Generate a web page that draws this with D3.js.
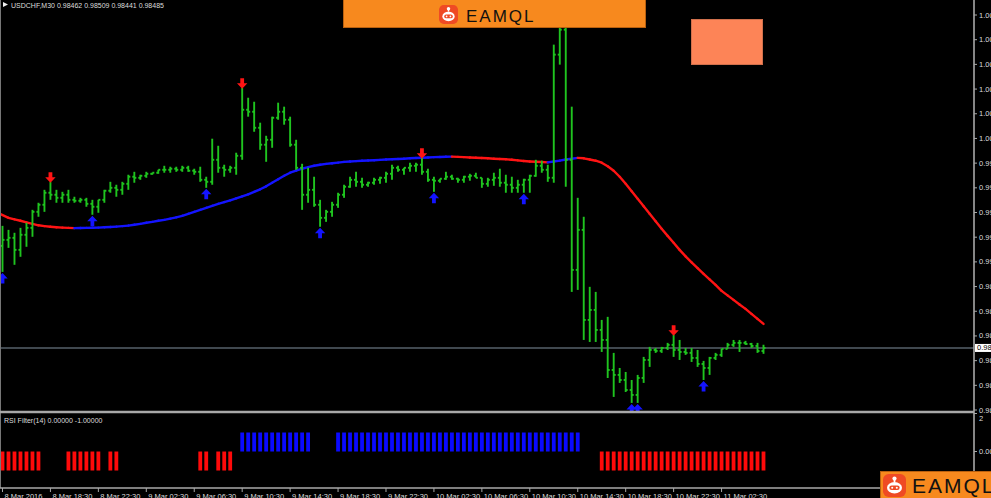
<!DOCTYPE html>
<html>
<head>
<meta charset="utf-8">
<script src="https://cdn.jsdelivr.net/npm/d3@7"></script>
<style>
  body { margin: 0; background: #000; overflow: hidden; }
  svg { display: block; }
  text { font-family: "Liberation Sans", Arial, sans-serif; }
</style>
</head>
<body>
<svg width="991" height="498"></svg>
<script>
// USDCHF M30 bars
var highs = [
  0.99400, 0.99370, 0.99348, 0.99385, 0.99423, 0.99520, 0.99573, 0.99670, 0.99730, 0.99670,
  0.99655, 0.99670, 0.99618, 0.99610, 0.99610, 0.99595, 0.99595, 0.99670, 0.99730, 0.99708,
  0.99730, 0.99783, 0.99805, 0.99783, 0.99805, 0.99798, 0.99820, 0.99850, 0.99843, 0.99843,
  0.99850, 0.99850, 0.99828, 0.99843, 0.99768, 1.00053, 1.00000, 0.99858, 0.99850, 0.99948,
  1.00435, 1.00360, 1.00330, 1.00173, 1.00075, 1.00218, 1.00323, 1.00293, 1.00218, 1.00045,
  0.99865, 0.99835, 0.99768, 0.99595, 0.99520, 0.99580, 0.99648, 0.99708, 0.99768, 0.99805,
  0.99760, 0.99730, 0.99760, 0.99768, 0.99805, 0.99858, 0.99850, 0.99835, 0.99873, 0.99873,
  0.99910, 0.99828, 0.99768, 0.99753, 0.99805, 0.99783, 0.99760, 0.99775, 0.99790, 0.99798,
  0.99760, 0.99760, 0.99798, 0.99828, 0.99783, 0.99768, 0.99745, 0.99753, 0.99783, 0.99895,
  0.99888, 0.99858, 1.00758, 1.00960, 1.01005, 1.00293, 0.99610, 0.99468, 0.98943, 0.98905,
  0.98695, 0.98718, 0.98448, 0.98335, 0.98305, 0.98245, 0.98283, 0.98418, 0.98493, 0.98485,
  0.98493, 0.98523, 0.98583, 0.98545, 0.98485, 0.98485, 0.98470, 0.98388, 0.98418, 0.98448,
  0.98478, 0.98523, 0.98545, 0.98545, 0.98538, 0.98523, 0.98523, 0.98509
];
var lows = [
  0.99055, 0.99235, 0.99108, 0.99168, 0.99243, 0.99318, 0.99468, 0.99505, 0.99595, 0.99573,
  0.99573, 0.99573, 0.99573, 0.99573, 0.99543, 0.99483, 0.99498, 0.99573, 0.99648, 0.99618,
  0.99633, 0.99670, 0.99723, 0.99745, 0.99760, 0.99783, 0.99790, 0.99798, 0.99798, 0.99805,
  0.99805, 0.99805, 0.99783, 0.99730, 0.99685, 0.99708, 0.99798, 0.99768, 0.99798, 0.99783,
  0.99895, 1.00218, 1.00105, 0.99970, 0.99880, 0.99985, 1.00195, 1.00158, 0.99993, 0.99820,
  0.99520, 0.99573, 0.99543, 0.99393, 0.99430, 0.99468, 0.99535, 0.99610, 0.99685, 0.99693,
  0.99685, 0.99693, 0.99708, 0.99715, 0.99723, 0.99745, 0.99805, 0.99783, 0.99805, 0.99805,
  0.99783, 0.99730, 0.99655, 0.99723, 0.99745, 0.99745, 0.99723, 0.99723, 0.99738, 0.99760,
  0.99685, 0.99693, 0.99700, 0.99693, 0.99648, 0.99648, 0.99648, 0.99648, 0.99648, 0.99768,
  0.99798, 0.99730, 0.99723, 1.00608, 0.99693, 0.98905, 0.98920, 0.98545, 0.98530, 0.98530,
  0.98455, 0.98260, 0.98118, 0.98223, 0.98155, 0.98073, 0.98073, 0.98223, 0.98343, 0.98448,
  0.98448, 0.98470, 0.98418, 0.98395, 0.98433, 0.98380, 0.98343, 0.98245, 0.98283, 0.98395,
  0.98418, 0.98478, 0.98493, 0.98455, 0.98508, 0.98485, 0.98448, 0.98441
];
var closes = [
  0.99295, 0.99310, 0.99220, 0.99333, 0.99385, 0.99505, 0.99558, 0.99648, 0.99633, 0.99610,
  0.99633, 0.99595, 0.99588, 0.99595, 0.99565, 0.99543, 0.99595, 0.99663, 0.99685, 0.99670,
  0.99715, 0.99768, 0.99760, 0.99775, 0.99790, 0.99798, 0.99820, 0.99820, 0.99828, 0.99820,
  0.99835, 0.99813, 0.99805, 0.99745, 0.99730, 0.99895, 0.99835, 0.99820, 0.99835, 0.99925,
  1.00270, 1.00255, 1.00135, 1.00008, 1.00045, 1.00210, 1.00255, 1.00195, 1.00008, 0.99835,
  0.99633, 0.99670, 0.99558, 0.99460, 0.99505, 0.99558, 0.99633, 0.99693, 0.99745, 0.99730,
  0.99708, 0.99723, 0.99745, 0.99760, 0.99790, 0.99835, 0.99820, 0.99835, 0.99850, 0.99858,
  0.99805, 0.99745, 0.99738, 0.99753, 0.99768, 0.99753, 0.99745, 0.99768, 0.99775, 0.99760,
  0.99715, 0.99745, 0.99760, 0.99723, 0.99708, 0.99685, 0.99708, 0.99745, 0.99775, 0.99850,
  0.99820, 0.99760, 1.00683, 1.00870, 0.99895, 0.99070, 0.99370, 0.98695, 0.98770, 0.98620,
  0.98545, 0.98320, 0.98283, 0.98245, 0.98170, 0.98133, 0.98260, 0.98395, 0.98470, 0.98463,
  0.98485, 0.98508, 0.98470, 0.98455, 0.98448, 0.98410, 0.98365, 0.98335, 0.98410, 0.98433,
  0.98478, 0.98508, 0.98523, 0.98523, 0.98515, 0.98500, 0.98462, 0.98485
];
var firstOpen = 0.99250;

// moving average (drawn blue when rising, red when falling)
var ma = [
  0.99490, 0.99460, 0.99449, 0.99438, 0.99426, 0.99415, 0.99404, 0.99398, 0.99393, 0.99389,
  0.99387, 0.99385, 0.99383, 0.99384, 0.99385, 0.99386, 0.99387, 0.99389, 0.99391, 0.99394,
  0.99398, 0.99402, 0.99408, 0.99415, 0.99423, 0.99430, 0.99438, 0.99445, 0.99454, 0.99464,
  0.99475, 0.99490, 0.99505, 0.99520, 0.99535, 0.99550, 0.99565, 0.99578, 0.99591, 0.99606,
  0.99621, 0.99636, 0.99655, 0.99674, 0.99696, 0.99723, 0.99749, 0.99775, 0.99798, 0.99813,
  0.99828, 0.99840, 0.99850, 0.99858, 0.99864, 0.99869, 0.99874, 0.99879, 0.99882, 0.99885,
  0.99888, 0.99890, 0.99892, 0.99894, 0.99897, 0.99899, 0.99901, 0.99903, 0.99906, 0.99908,
  0.99910, 0.99912, 0.99915, 0.99916, 0.99918, 0.99919, 0.99917, 0.99915, 0.99912, 0.99910,
  0.99908, 0.99906, 0.99903, 0.99901, 0.99899, 0.99895, 0.99891, 0.99886, 0.99882, 0.99880,
  0.99878, 0.99876, 0.99882, 0.99889, 0.99897, 0.99903, 0.99909, 0.99906, 0.99897, 0.99888,
  0.99873, 0.99846, 0.99813, 0.99768, 0.99715, 0.99659, 0.99603, 0.99546, 0.99490, 0.99434,
  0.99378, 0.99325, 0.99273, 0.99220, 0.99171, 0.99126, 0.99083, 0.99040, 0.98999, 0.98958,
  0.98913, 0.98879, 0.98845, 0.98811, 0.98778, 0.98740, 0.98703, 0.98665
];

// RSI filter: 1 = blue buffer, -1 = red buffer, 0 = empty
var rsiSignal = [
  -1,-1,-1,-1,-1,-1,-1, 0, 0, 0, 0,-1,-1,-1,-1,-1,
  -1, 0,-1,-1, 0, 0, 0, 0, 0, 0, 0, 0, 0, 0, 0, 0,
   0,-1,-1, 0,-1,-1,-1, 0, 1, 1, 1, 1, 1, 1, 1, 1,
   1, 1, 1, 1, 0, 0, 0, 0, 1, 1, 1, 1, 1, 1, 1, 1,
   1, 1, 1, 1, 1, 1, 1, 1, 1, 1, 1, 1, 1, 1, 1, 1,
   1, 1, 1, 1, 1, 1, 1, 1, 1, 1, 1, 1, 1, 1, 1, 1,
   1, 0, 0, 0,-1,-1,-1,-1,-1,-1,-1,-1,-1,-1,-1,-1,
  -1,-1,-1,-1,-1,-1,-1,-1,-1,-1,-1,-1,-1,-1,-1,-1
];

// signal arrows (bar indexes)
var upArrows = [0, 15, 34, 53, 72, 87, 105, 106, 117];
var downArrows = [8, 40, 70, 112];

// axis labels
var timeTickBars = [0, 8, 16, 24, 32, 40, 48, 56, 64, 72, 80, 88, 96, 104, 112, 120];
var timeTickLabels = ["8 Mar 2016", "8 Mar 18:30", "8 Mar 22:30", "9 Mar 02:30", "9 Mar 06:30",
  "9 Mar 10:30", "9 Mar 14:30", "9 Mar 18:30", "9 Mar 22:30", "10 Mar 02:30", "10 Mar 06:30",
  "10 Mar 10:30", "10 Mar 14:30", "10 Mar 18:30", "10 Mar 22:30", "11 Mar 02:30"];
var priceTicks = [0.98020, 0.98205, 0.98390, 0.98575, 0.98760, 0.98945, 0.99130, 0.99315, 0.99500,
  0.99685, 0.99870, 1.00055, 1.00240, 1.00425, 1.00610, 1.00795, 1.00980];
var rsiTicks = [2, 0];
var rsiTickLabels = ["2", "0.00000"];
var lastPrice = 0.98485;
var chartTitle = "USDCHF,M30  0.98462 0.98509 0.98441 0.98485";
var rsiTitle = "RSI Filter(14) 0.00000 -1.00000";

var svg = d3.select("svg"),
    axisX = 974,
    mainBottom = 412,
    subBottom = 488;

var green = "#1fc41f", grid = "#a8a8a8", label = "#dcdcdc";

var x = d3.scalePoint().domain(d3.range(highs.length)).range([2.5, 763.5]);
var y = d3.scaleLinear().domain([0.98020, 1.00980]).range([410, 15]);
var yr = d3.scaleLinear().domain([-1.92, 2]).range([subBottom, 413.5]);

svg.append("rect").attr("width", 991).attr("height", 498).attr("fill", "#000");

svg.append("clipPath").attr("id", "mainclip")
  .append("rect").attr("x", 0).attr("y", 0).attr("width", axisX).attr("height", mainBottom);

var main = svg.append("g").attr("clip-path", "url(#mainclip)");

// current price line
main.append("line")
    .attr("x1", 0).attr("x2", axisX)
    .attr("y1", y(lastPrice)).attr("y2", y(lastPrice))
    .attr("stroke", "#56606a").attr("stroke-width", 1.5);

// moving average, coloured by direction
var maSeg = d3.range(1, ma.length);
main.selectAll(".ma")
  .data(maSeg)
  .enter().append("line")
    .attr("class", "ma")
    .attr("x1", function(i) { return i == 1 ? 0 : x(i - 1); })
    .attr("y1", function(i) { return y(ma[i - 1]); })
    .attr("x2", function(i) { return x(i); })
    .attr("y2", function(i) { return y(ma[i]); })
    .attr("stroke", function(i) { return ma[i] >= ma[i - 1] ? "#1414ff" : "#ff1414"; })
    .attr("stroke-width", 2.4)
    .attr("stroke-linecap", "round");

// ohlc bars
var bars = main.selectAll(".bar")
  .data(d3.range(highs.length))
  .enter().append("g")
    .attr("class", "bar")
    .attr("stroke", green)
    .attr("stroke-width", 1.9);

bars.append("line")
    .attr("x1", function(i) { return x(i); })
    .attr("x2", function(i) { return x(i); })
    .attr("y1", function(i) { return y(highs[i]); })
    .attr("y2", function(i) { return y(lows[i]); });

bars.append("line")
    .attr("x1", function(i) { return x(i) - 2; })
    .attr("x2", function(i) { return x(i); })
    .attr("y1", function(i) { return y(i ? closes[i - 1] : firstOpen); })
    .attr("y2", function(i) { return y(i ? closes[i - 1] : firstOpen); });

bars.append("line")
    .attr("x1", function(i) { return x(i); })
    .attr("x2", function(i) { return x(i) + 2; })
    .attr("y1", function(i) { return y(closes[i]); })
    .attr("y2", function(i) { return y(closes[i]); });

// arrows
var arrowPath = "M0,0L5.2,5.5L1.9,5.5L1.9,10.5L-1.9,10.5L-1.9,5.5L-5.2,5.5Z";

main.selectAll(".up")
  .data(upArrows)
  .enter().append("path")
    .attr("class", "up")
    .attr("d", arrowPath)
    .attr("fill", "#1414ff")
    .attr("transform", function(i) { return "translate(" + x(i) + "," + (y(lows[i]) + 1) + ")"; });

main.selectAll(".down")
  .data(downArrows)
  .enter().append("path")
    .attr("class", "down")
    .attr("d", arrowPath)
    .attr("fill", "#ff1414")
    .attr("transform", function(i) { return "translate(" + x(i) + "," + (y(highs[i]) + 1) + ") scale(1,-1)"; });

// rsi filter panel
svg.selectAll(".rsi")
  .data(d3.range(rsiSignal.length).filter(function(i) { return rsiSignal[i] != 0; }))
  .enter().append("rect")
    .attr("class", "rsi")
    .attr("x", function(i) { return x(i) - 1.9; })
    .attr("width", 3.8)
    .attr("y", function(i) { return Math.min(yr(rsiSignal[i]), yr(0)); })
    .attr("height", function(i) { return Math.abs(yr(rsiSignal[i]) - yr(0)); })
    .attr("fill", function(i) { return rsiSignal[i] > 0 ? "#0a0aff" : "#ff0a0a"; });

// frame lines
svg.append("line").attr("x1", 0.5).attr("x2", 0.5).attr("y1", 0).attr("y2", subBottom)
    .attr("stroke", "#777").attr("stroke-width", 1);
svg.append("line").attr("x1", 0).attr("x2", axisX).attr("y1", mainBottom).attr("y2", mainBottom)
    .attr("stroke", grid).attr("stroke-width", 2.4);
svg.append("line").attr("x1", 0).attr("x2", axisX + 1).attr("y1", subBottom).attr("y2", subBottom)
    .attr("stroke", grid).attr("stroke-width", 1.6);
svg.append("line").attr("x1", axisX).attr("x2", axisX).attr("y1", 0).attr("y2", subBottom)
    .attr("stroke", grid).attr("stroke-width", 1.6);

// price axis
var pAxis = svg.append("g");
pAxis.selectAll("line")
  .data(priceTicks)
  .enter().append("line")
    .attr("x1", axisX).attr("x2", axisX + 3)
    .attr("y1", function(d) { return y(d); }).attr("y2", function(d) { return y(d); })
    .attr("stroke", grid);
pAxis.selectAll("text")
  .data(priceTicks)
  .enter().append("text")
    .attr("x", axisX + 5)
    .attr("y", function(d) { return y(d) + 2.5; })
    .attr("font-size", 7.5)
    .attr("fill", label)
    .text(function(d) { return d.toFixed(5); });

// last price tag
svg.append("rect")
    .attr("x", axisX + 1).attr("y", y(lastPrice) - 4)
    .attr("width", 18).attr("height", 8)
    .attr("fill", "#fff");
svg.append("text")
    .attr("x", axisX + 3).attr("y", y(lastPrice) + 2.5)
    .attr("font-size", 7.5).attr("fill", "#000")
    .text(lastPrice.toFixed(5));

// rsi axis
rsiTicks.forEach(function(v, k) {
  svg.append("line")
      .attr("x1", axisX).attr("x2", axisX + 3)
      .attr("y1", yr(v)).attr("y2", yr(v))
      .attr("stroke", grid);
  svg.append("text")
      .attr("x", axisX + 5)
      .attr("y", Math.max(yr(v) + 2.5, 421))
      .attr("font-size", 7.5)
      .attr("fill", label)
      .text(rsiTickLabels[k]);
});

// time axis
var tAxis = svg.append("g");
tAxis.selectAll("line")
  .data(timeTickBars)
  .enter().append("line")
    .attr("x1", function(i) { return x(i); }).attr("x2", function(i) { return x(i); })
    .attr("y1", subBottom).attr("y2", subBottom + 4)
    .attr("stroke", grid);
tAxis.selectAll("text")
  .data(timeTickBars)
  .enter().append("text")
    .attr("x", function(i) { return x(i) + 2; })
    .attr("y", 498.5)
    .attr("font-size", 7.5)
    .attr("fill", label)
    .text(function(i, k) { return timeTickLabels[k]; });

// titles
svg.append("path").attr("d", "M3,2L8,4.5L3,7Z").attr("fill", "#eee");
svg.append("text").attr("x", 11).attr("y", 7.5)
    .attr("font-size", 7).attr("fill", label).text(chartTitle);
svg.append("text").attr("x", 4).attr("y", 423)
    .attr("font-size", 7).attr("fill", label).text(rsiTitle);

// overlays: salmon box and watermarks
svg.append("rect")
    .attr("x", 691.5).attr("y", 19.5).attr("width", 71).attr("height", 45)
    .attr("fill", "#fd8457").attr("stroke", "#d0704c");

function logo(bx, by, bw, bh, ix, iy, is, tx, ty, fs, ls) {
  svg.append("rect")
      .attr("x", bx).attr("y", by).attr("width", bw).attr("height", bh)
      .attr("fill", "#f7891e").attr("stroke", "#b8600f");
  var s = is / 20;
  var ic = svg.append("g").attr("transform", "translate(" + ix + "," + iy + ") scale(" + s + ")");
  ic.append("rect").attr("width", 20).attr("height", 20).attr("rx", 5).attr("fill", "#ef4a24");
  ic.append("line").attr("x1", 10).attr("x2", 10).attr("y1", 4).attr("y2", 7)
      .attr("stroke", "#fff").attr("stroke-width", 1.5);
  ic.append("circle").attr("cx", 10).attr("cy", 4).attr("r", 1.8).attr("fill", "#fff");
  ic.append("ellipse").attr("cx", 10).attr("cy", 12).attr("rx", 6.5).attr("ry", 5).attr("fill", "#fff");
  ic.append("rect").attr("x", 5.5).attr("y", 10).attr("width", 9).attr("height", 4).attr("rx", 2)
      .attr("fill", "#ef4a24");
  ic.append("circle").attr("cx", 8).attr("cy", 12).attr("r", 0.9).attr("fill", "#fff");
  ic.append("circle").attr("cx", 12).attr("cy", 12).attr("r", 0.9).attr("fill", "#fff");
  svg.append("text")
      .attr("x", tx).attr("y", ty)
      .attr("font-family", "Lato, 'Open Sans', sans-serif")
      .attr("font-size", fs)
      .attr("letter-spacing", ls)
      .attr("fill", "#111")
      .text("EAMQL");
}

logo(343.5, -1, 302, 28.5, 439, 5, 19, 466, 22, 17, 2);
logo(880.5, 471.5, 112, 28, 883, 474, 23, 912, 493, 21, 2);
</script>
</body>
</html>
